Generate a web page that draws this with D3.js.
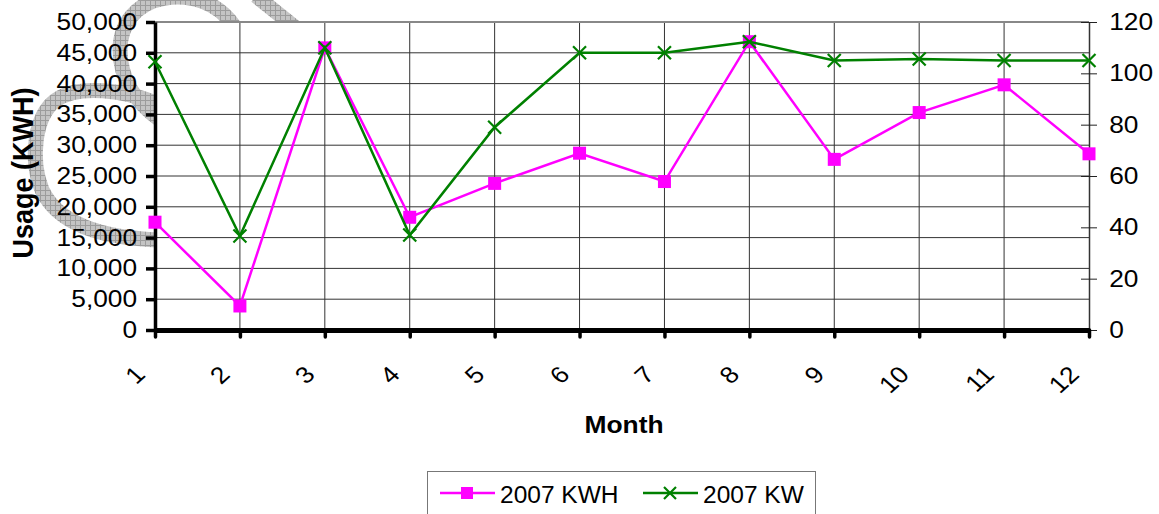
<!DOCTYPE html>
<html>
<head>
<meta charset="utf-8">
<script src="https://cdnjs.cloudflare.com/ajax/libs/d3/7.8.5/d3.min.js"></script>
<style>
  body { margin: 0; background: #fff; }
  svg { display: block; font-family: "Liberation Sans", Arial, sans-serif; }
</style>
</head>
<body>
<svg class="main" width="1159" height="514"></svg>
<script>
// data
var months = [1, 2, 3, 4, 5, 6, 7, 8, 9, 10, 11, 12]
var kwh = [17500, 3900, 45800, 18300, 23800, 28700, 24100, 46800, 27700, 35300, 39800, 28600]
var kw = [104.5, 36.6, 110, 37, 79, 108, 108, 112.3, 105, 105.6, 105, 105]
var leftTicks = d3.range(0, 50001, 5000)
var rightTicks = d3.range(0, 121, 20)

const svg = d3.select('svg.main')
const margin = {left: 155, top: 22, right: 70, bottom: 184}
const width = 1159 - margin.left - margin.right
const height = 514 - margin.top - margin.bottom
const fontSize = 23.5
const stretch = 'scale(1.12, 1)'

// decorative grey watermark behind the chart
var defs = svg.append('defs')
var pat = defs.append('pattern')
  .attr('id', 'check').attr('width', 5).attr('height', 5)
  .attr('patternUnits', 'userSpaceOnUse')
pat.append('rect').attr('width', 5).attr('height', 5).attr('fill', '#c4c4c4')
pat.append('path').attr('d', 'M0,0.5H5M0.5,0V5').attr('stroke', '#9c9c9c').attr('stroke-width', 1)

var wm = svg.append('g').attr('fill', 'none').attr('stroke', 'url(#check)').attr('stroke-width', 15)
wm.append('path').attr('d', 'M234,26 C218,2 190,-6 165,-2 C135,3 120,25 120,50 C120,78 135,102 160,120')
wm.append('path').attr('d', 'M256,-4 L296,28')
wm.append('path').attr('d', 'M158,104 C125,90 78,84 56,100 C34,116 30,160 42,190 C58,224 100,238 160,240')

const body = svg.append('g')
  .attr('transform', `translate(${margin.left}, ${margin.top})`)

const x = d3.scalePoint().domain(months).range([0, width])
const yL = d3.scaleLinear().domain([0, 50000]).range([height, 0])
const yR = d3.scaleLinear().domain([0, 120]).range([height, 0])

// plot background
body.append('rect').attr('width', width).attr('height', height).attr('fill', '#fff')

// gridlines
body.append('g')
  .selectAll('line.h').data(leftTicks.slice(1, -1)).join('line')
  .attr('x1', 0).attr('x2', width)
  .attr('y1', d => yL(d)).attr('y2', d => yL(d))
  .attr('stroke', '#333').attr('stroke-width', 1)
body.append('g')
  .selectAll('line.v').data(months.slice(1, -1)).join('line')
  .attr('x1', d => x(d)).attr('x2', d => x(d))
  .attr('y1', 0).attr('y2', height)
  .attr('stroke', '#333').attr('stroke-width', 1)
// top border
body.append('line').attr('x1', 0).attr('x2', width).attr('y1', 0).attr('y2', 0)
  .attr('stroke', '#888').attr('stroke-width', 2)

// right axis
const rAxis = body.append('g')
  .attr('transform', `translate(${width}, 0)`)
  .call(d3.axisRight(yR).tickValues(rightTicks).tickSize(8).tickPadding(10).tickSizeOuter(0))
rAxis.select('.domain').attr('stroke', '#333').attr('stroke-width', 1.5)
rAxis.selectAll('.tick line').attr('x1', -8).attr('stroke', '#222')
rAxis.selectAll('text').attr('font-size', fontSize).attr('fill', '#000')
  .attr('font-family', '"Liberation Sans", Arial, sans-serif').attr('transform', stretch)

// left axis
const lAxis = body.append('g')
  .call(d3.axisLeft(yL).tickValues(leftTicks).tickSize(9).tickPadding(7).tickSizeOuter(0)
    .tickFormat(d3.format(',')))
lAxis.select('.domain').attr('stroke', '#000').attr('stroke-width', 3.5)
lAxis.selectAll('.tick line').attr('stroke', '#000').attr('stroke-width', 3.5)
lAxis.selectAll('text').attr('font-size', fontSize).attr('fill', '#000')
  .attr('font-family', '"Liberation Sans", Arial, sans-serif').attr('transform', stretch)

// bottom axis
const xAxis = body.append('g')
  .attr('transform', `translate(0, ${height})`)
  .call(d3.axisBottom(x).tickSize(7).tickSizeOuter(0))
xAxis.select('.domain').attr('stroke', '#000').attr('stroke-width', 5)
xAxis.selectAll('.tick line').attr('stroke', '#000').attr('stroke-width', 3.5).attr('stroke-linecap', 'round')
xAxis.selectAll('text')
  .attr('font-size', fontSize).attr('fill', '#000').attr('font-family', '"Liberation Sans", Arial, sans-serif')
  .attr('y', 0).attr('x', 0).attr('dy', 0)
  .style('text-anchor', 'end')
  .attr('transform', 'translate(-9, 46) ' + stretch + ' rotate(-45)')

// lines
const lineKwh = d3.line().x((d, i) => x(months[i])).y(d => yL(d))
const lineKw = d3.line().x((d, i) => x(months[i])).y(d => yR(d))

body.append('path').datum(kwh).attr('d', lineKwh)
  .attr('fill', 'none').attr('stroke', '#ff00ff').attr('stroke-width', 2.5)
body.append('g').selectAll('rect').data(kwh).join('rect')
  .attr('x', (d, i) => x(months[i]) - 6.5).attr('y', d => yL(d) - 6.5)
  .attr('width', 13).attr('height', 13).attr('fill', '#ff00ff')

body.append('path').datum(kw).attr('d', lineKw)
  .attr('fill', 'none').attr('stroke', '#008000').attr('stroke-width', 2.5)
body.append('g').selectAll('path.x').data(kw).join('path')
  .attr('d', (d, i) => {
    var cx = x(months[i]), cy = yR(d), s = 6.5
    return `M${cx - s},${cy - s}L${cx + s},${cy + s}M${cx - s},${cy + s}L${cx + s},${cy - s}`
  })
  .attr('stroke', '#008000').attr('stroke-width', 2.2)

// axis titles
svg.append('text')
  .attr('transform', 'translate(33, 173) scale(1.1, 1) rotate(-90)')
  .attr('text-anchor', 'middle').attr('font-size', 27).attr('font-weight', 'bold')
  .text('Usage (KWH)')
svg.append('text')
  .attr('transform', 'translate(624, 433) scale(1.1, 1)')
  .attr('text-anchor', 'middle').attr('font-size', 24).attr('font-weight', 'bold')
  .text('Month')

// legend
const legend = svg.append('g').attr('transform', 'translate(427, 471)')
legend.append('rect').attr('x', 0.5).attr('y', 0.5).attr('width', 388).attr('height', 60)
  .attr('fill', '#fff').attr('stroke', '#777').attr('stroke-width', 1)
legend.append('line').attr('x1', 13).attr('x2', 68).attr('y1', 22).attr('y2', 22)
  .attr('stroke', '#ff00ff').attr('stroke-width', 2.5)
legend.append('rect').attr('x', 34).attr('y', 16).attr('width', 12).attr('height', 12).attr('fill', '#ff00ff')
legend.append('text').attr('x', 73).attr('y', 32).attr('font-size', 24.5).text('2007 KWH')
legend.append('line').attr('x1', 216).attr('x2', 271).attr('y1', 22).attr('y2', 22)
  .attr('stroke', '#008000').attr('stroke-width', 2.5)
legend.append('path').attr('d', 'M237,16L249,28M237,28L249,16')
  .attr('stroke', '#008000').attr('stroke-width', 2.2)
legend.append('text').attr('x', 276).attr('y', 32).attr('font-size', 24.5).text('2007 KW')
</script>
</body>
</html>
